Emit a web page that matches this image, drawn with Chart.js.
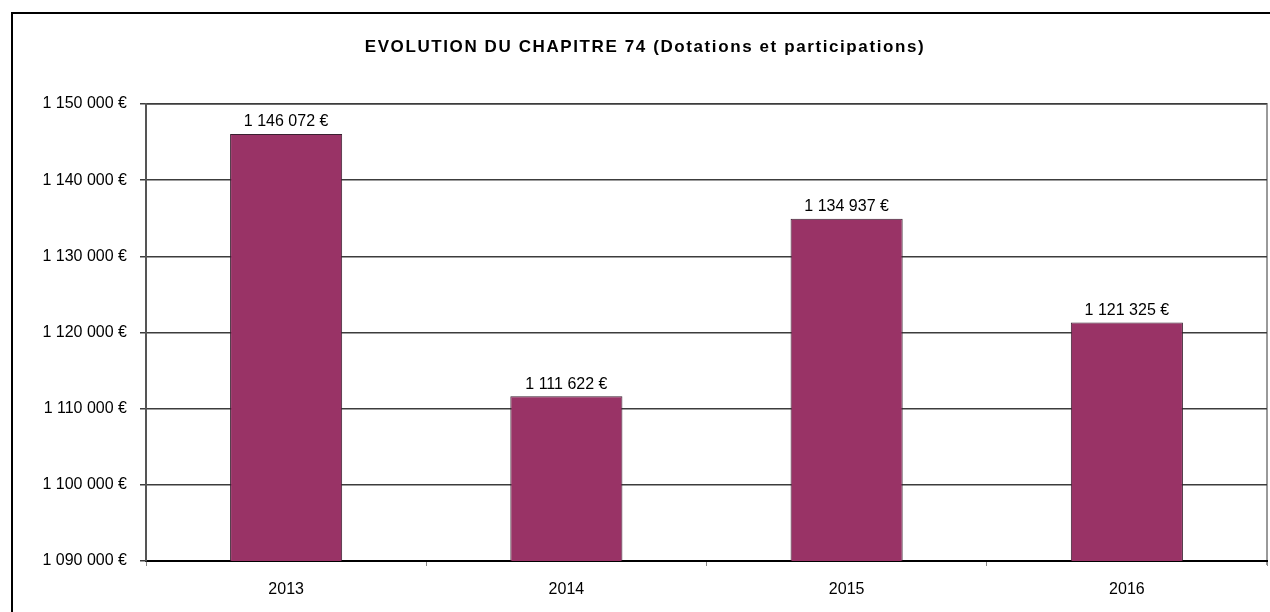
<!DOCTYPE html>
<html>
<head>
<meta charset="utf-8">
<script src="https://cdn.jsdelivr.net/npm/chart.js@4.4.1/dist/chart.umd.min.js"></script>
<style>
  html, body { margin: 0; padding: 0; background: #fff; }
  #wrap { width: 1270px; height: 612px; position: relative; }
</style>
</head>
<body>
<div id="wrap"><canvas id="canvas" width="1270" height="612"></canvas></div>
<script>
// données du graphique
const years = ['2013', '2014', '2015', '2016'];
const montants = [1146072, 1111622, 1134937, 1121325];
const yMin = 1090000;
const yMax = 1150000;
const yStep = 10000;
const titre = 'EVOLUTION DU CHAPITRE 74 (Dotations et participations)';

function euro(v) {
    let s = Math.round(v).toString().replace(/\B(?=(\d{3})+(?!\d))/g, ' ');
    return s + ' €';
}

// cadre noir + bord gris de la zone de tracé + titre
const cadre = {
    id: 'cadre',
    beforeDraw(chart) {
        const ctx = chart.ctx;
        const a = chart.chartArea;
        ctx.save();
        ctx.strokeStyle = '#000';
        ctx.lineWidth = 2;
        ctx.beginPath();
        ctx.moveTo(12, 612);
        ctx.lineTo(12, 13);
        ctx.lineTo(1270, 13);
        ctx.stroke();
        ctx.strokeStyle = '#9a9a9a';
        ctx.lineWidth = 2;
        ctx.beginPath();
        ctx.moveTo(a.left, a.top);
        ctx.lineTo(a.right, a.top);
        ctx.lineTo(a.right, a.bottom + 4);
        ctx.stroke();

        // titre, un peu espacé comme dans Excel
        ctx.font = 'bold 17px Arial, "Liberation Sans", sans-serif';
        ctx.fillStyle = '#000';
        ctx.textAlign = 'center';
        ctx.textBaseline = 'middle';
        if ('letterSpacing' in ctx) ctx.letterSpacing = '1.6px';
        ctx.fillText(titre, 645, 47);
        ctx.restore();
    }
};

// étiquettes au-dessus des barres
const etiquettes = {
    id: 'etiquettes',
    afterDatasetsDraw(chart) {
        const ctx = chart.ctx;
        const meta = chart.getDatasetMeta(0);
        ctx.save();
        ctx.font = '16px Arial, "Liberation Sans", sans-serif';
        ctx.fillStyle = '#000';
        ctx.textAlign = 'center';
        ctx.textBaseline = 'bottom';
        meta.data.forEach((bar, i) => {
            ctx.fillText(euro(montants[i]), bar.x, bar.y - 4);
        });
        ctx.restore();
    }
};

const ctx = document.getElementById('canvas').getContext('2d');
const myChart = new Chart(ctx, {
    type: 'bar',
    data: {
        labels: years,
        datasets: [{
            data: montants,
            backgroundColor: '#993366',
            borderColor: '#3a2030',
            borderWidth: 1,
            barPercentage: 0.4,
            categoryPercentage: 1.0
        }]
    },
    options: {
        responsive: false,
        animation: false,
        layout: { padding: { left: 0, right: 3, top: 104, bottom: 0 } },
        plugins: {
            legend: { display: false },
            tooltip: { enabled: false },
            title: { display: false }
        },
        scales: {
            x: {
                grid: {
                    display: true,
                    drawOnChartArea: false,
                    drawTicks: true,
                    tickLength: 5,
                    color: '#888',
                    offset: true
                },
                border: { display: true, color: '#000', width: 2 },
                ticks: {
                    color: '#000',
                    padding: 14,
                    font: { family: 'Arial, "Liberation Sans", sans-serif', size: 16 }
                },
                afterFit(scale) { scale.height = 51; }
            },
            y: {
                min: yMin,
                max: yMax,
                grid: {
                    color: '#3c3c3c',
                    lineWidth: 1.5,
                    tickLength: 6,
                    drawTicks: true
                },
                border: { display: true, color: '#555', width: 2 },
                ticks: {
                    stepSize: yStep,
                    color: '#000',
                    padding: 13,
                    font: { family: 'Arial, "Liberation Sans", sans-serif', size: 16 },
                    callback: (v) => euro(v)
                },
                afterFit(scale) { scale.width = 146; }
            }
        }
    },
    plugins: [cadre, etiquettes]
});
</script>
</body>
</html>
